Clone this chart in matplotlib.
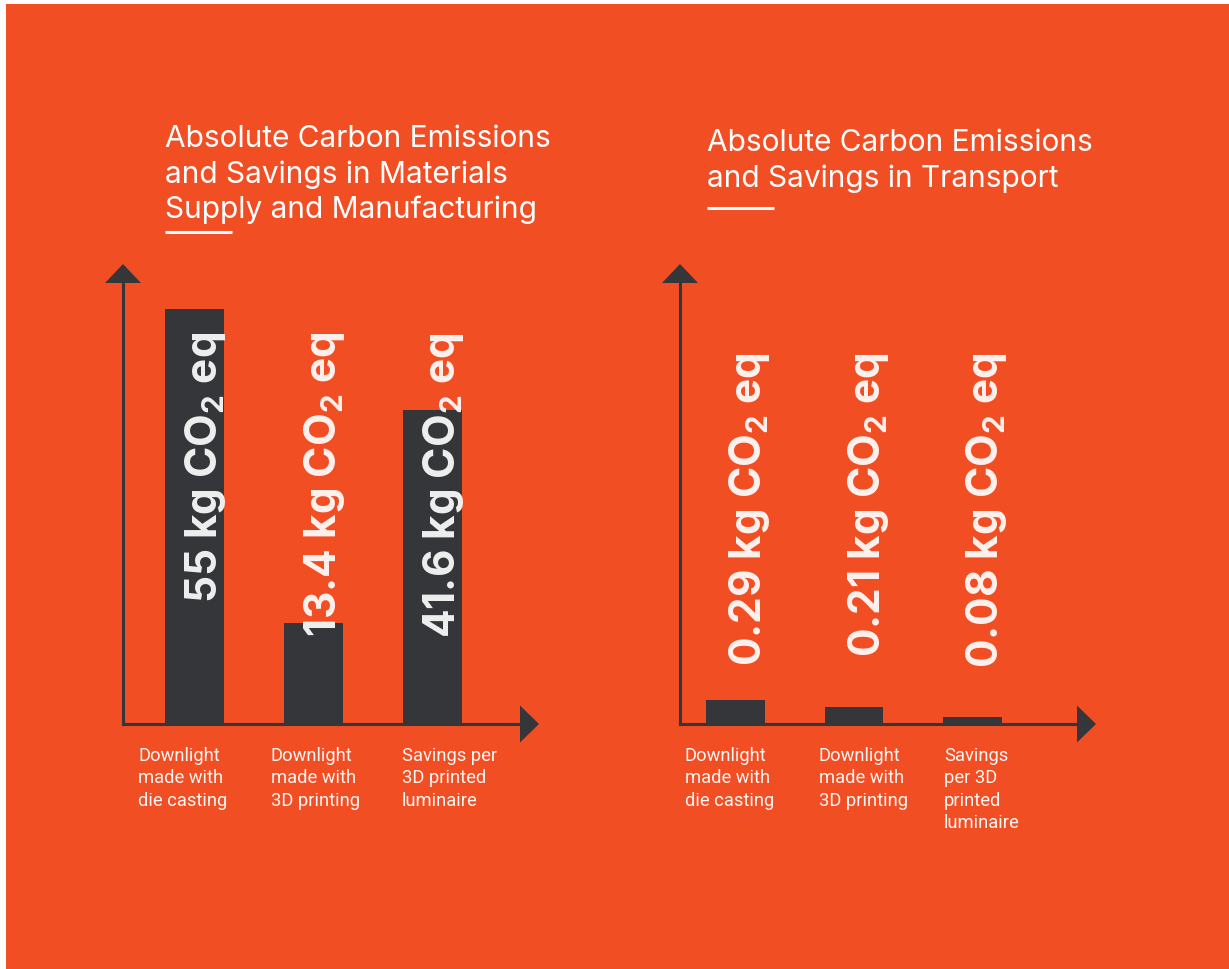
import matplotlib
matplotlib.use("Agg")
import matplotlib.pyplot as plt
import matplotlib.transforms as mtransforms
from matplotlib.patches import Polygon, Rectangle
from matplotlib.lines import Line2D

# ---------------- data ----------------
categories_materials = ["Downlight\nmade with\ndie casting",
                        "Downlight\nmade with\n3D printing",
                        "Savings per\n3D printed\nluminaire"]
values_materials = [55, 13.4, 41.6]
value_labels_materials = ["55", "13.4", "41.6"]

categories_transport = ["Downlight\nmade with\ndie casting",
                        "Downlight\nmade with\n3D printing",
                        "Savings\nper 3D\nprinted\nluminaire"]
values_transport = [0.29, 0.21, 0.08]
value_labels_transport = ["0.29", "0.21", "0.08"]

unit_suffix = " kg CO$_2$ eq"
title_materials = ["Absolute Carbon Emissions", "and Savings in Materials",
                   "Supply and Manufacturing"]
title_transport = ["Absolute Carbon Emissions", "and Savings in Transport"]

# ---------------- style ----------------
ORANGE = "#F14E24"
DARK = "#35363A"
W, H = 1229, 970
TITLE_FONT = "Inter"
VALUE_FONT = "Inter"
CAT_FONT = "Roboto"

plt.rcParams["mathtext.fontset"] = "custom"
plt.rcParams["mathtext.rm"] = "Inter:bold"
plt.rcParams["mathtext.it"] = "Inter:bold"
plt.rcParams["mathtext.bf"] = "Inter:bold"

fig = plt.figure(figsize=(W / 100, H / 100), dpi=100)
fig.patch.set_facecolor("white")


def fx(x):
    return x / W


def fy(y):
    return 1 - y / H


fig.add_artist(Rectangle((fx(6), 0), 1 - fx(6), fy(5), transform=fig.transFigure,
                         facecolor=ORANGE, edgecolor="none", zorder=0))


def make_panel(x0, x1, values, value_labels, categories, ymax, xlim,
               text_top_frac, text_dx, cat_xs, title_lines, title_x,
               title_baselines, underline_y):
    y_top, y_bot = 284, 725
    ax = fig.add_axes([fx(x0), fy(y_bot), (x1 - x0) / W, (y_bot - y_top) / H])
    ax.set_facecolor("none")
    ax.set_xlim(*xlim)
    ax.set_ylim(0, ymax)
    for s in ["top", "right"]:
        ax.spines[s].set_visible(False)
    for s in ["left", "bottom"]:
        ax.spines[s].set_color(DARK)
        ax.spines[s].set_linewidth(2.2)
    ax.set_xticks([])
    ax.set_yticks([])
    xs = list(range(len(values)))
    ax.bar(xs, values, width=0.496, color=DARK, zorder=2)

    trans = mtransforms.offset_copy(ax.get_xaxis_transform(), fig=fig,
                                    x=text_dx, y=0, units="dots")
    for i, lab in enumerate(value_labels):
        ax.text(i, text_top_frac, lab + unit_suffix, transform=trans,
                rotation=90, rotation_mode="anchor", ha="right", va="baseline",
                fontsize=30.5, fontweight="bold", family=VALUE_FONT,
                color="white", alpha=0.92, zorder=3, clip_on=False)

    # arrow heads
    fig.add_artist(Polygon([(fx(x0 - 18), fy(y_top)), (fx(x0 + 18), fy(y_top)),
                            (fx(x0), fy(y_top - 19))], closed=True,
                           transform=fig.transFigure, facecolor=DARK,
                           edgecolor="none", zorder=5))
    fig.add_artist(Polygon([(fx(x1), fy(y_bot - 18.5)), (fx(x1), fy(y_bot + 18.5)),
                            (fx(x1 + 19), fy(y_bot))], closed=True,
                           transform=fig.transFigure, facecolor=DARK,
                           edgecolor="none", zorder=5))

    # category labels
    for cx, cat in zip(cat_xs, categories):
        for j, line in enumerate(cat.split("\n")):
            fig.text(fx(cx), fy(761 + 22.4 * j), line, ha="left", va="baseline",
                     fontsize=13.2, family=CAT_FONT, color="white", alpha=0.95)

    # title
    for line, yb in zip(title_lines, title_baselines):
        fig.text(fx(title_x), fy(yb), line, ha="left", va="baseline",
                 fontsize=21.5, family=TITLE_FONT, color="white")
    fig.add_artist(Line2D([fx(title_x), fx(title_x + 67)],
                          [fy(underline_y), fy(underline_y)],
                          transform=fig.transFigure, color="white", lw=2.2,
                          solid_capstyle="butt"))
    return ax


make_panel(123, 520, values_materials, value_labels_materials,
           categories_materials, 58.4, (-0.601, 2.735), 0.891, 22.5,
           [138, 271, 402], title_materials, 165, [147, 183, 218], 232.5)

make_panel(680, 1077, values_transport, value_labels_transport,
           categories_transport, 5.33, (-0.468, 2.882), 0.846, 26,
           [685, 819, 944], title_transport, 707, [151, 187], 209)

fig.savefig("out.png", dpi=100, facecolor=fig.get_facecolor())
